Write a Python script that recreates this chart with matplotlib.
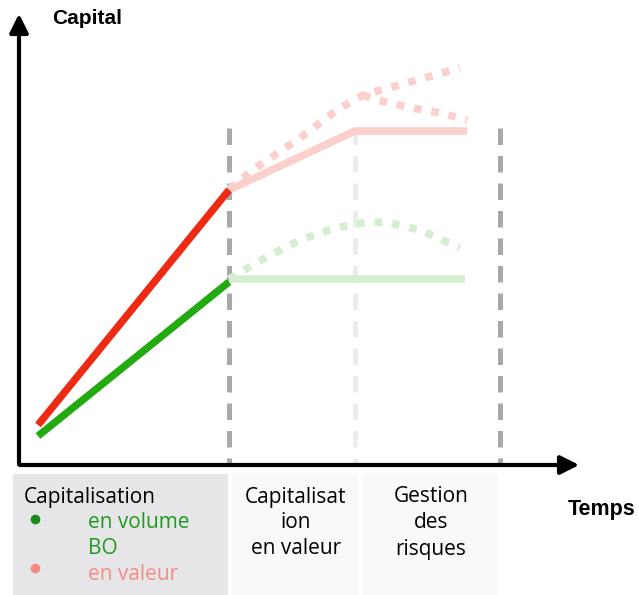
import matplotlib.pyplot as plt
from matplotlib.patches import Rectangle

# coordinates: time to the right, capital upward (figure is 639 x 595 units)
H = 595

# phase boundaries on the time axis
phase_t = [229, 355, 500]
phase_col = ["#a9a9a9", "#ececec", "#a9a9a9"]

# strong lines (first phase)
red_t = [38, 229]
red_c = [H - 425, H - 190]
green_t = [38, 229]
green_c = [H - 436, H - 282]

# faded continuations
red_flat_t = [229, 355, 467]
red_flat_c = [H - 190, H - 131, H - 131]
red_up_t = [229, 260, 300, 337, 363, 410, 460]
red_up_c = [H - 189, H - 165, H - 138, H - 110, H - 95, H - 82, H - 68]
red_down_t = [363, 377, 407, 440, 467]
red_down_c = [H - 95, H - 100, H - 107, H - 113, H - 120]
green_flat_t = [229, 465]
green_flat_c = [H - 279, H - 279]
green_dot_t = [229, 265, 300, 335, 363, 385, 420, 460]
green_dot_c = [H - 279, H - 258, H - 240, H - 228, H - 223, H - 222, H - 230, H - 248]

fig = plt.figure(figsize=(6.39, 5.95), dpi=100)
ax = fig.add_axes([0, 0, 1, 1])
ax.set_xlim(0, 639)
ax.set_ylim(0, H)
ax.axis('off')

# bottom boxes
ax.add_patch(Rectangle((13, 0), 214, H - 474, color="#e6e6e8", zorder=0))
ax.add_patch(Rectangle((232, 0), 125, H - 474, color="#f9f9f9", zorder=0))
ax.add_patch(Rectangle((363, 0), 134, H - 474, color="#f9f9f9", zorder=0))

# vertical phase lines
for t, c in zip(phase_t, phase_col):
    ax.plot([t, t], [H - 128, H - 465], color=c, lw=3.6, ls=(0, (3.3, 2.2)), zorder=1)

# faded lines
ax.plot(red_flat_t, red_flat_c, color="#fbd0cc", lw=5.5, solid_capstyle='butt', zorder=2)
ax.plot(green_flat_t, green_flat_c, color="#d3efcf", lw=5.5, solid_capstyle='butt', zorder=2)
dot = (0, (1.0, 1.3))
ax.plot(red_up_t, red_up_c, color="#fbd0cc", lw=5.5, ls=dot, dash_capstyle='butt', zorder=2)
ax.plot(red_down_t, red_down_c, color="#fbd0cc", lw=5.5, ls=dot, dash_capstyle='butt', zorder=2)
ax.plot(green_dot_t, green_dot_c, color="#d3efcf", lw=5.5, ls=dot, dash_capstyle='butt', zorder=2)

# strong lines
ax.plot(red_t, red_c, color="#ee2a12", lw=5.3, solid_capstyle='butt', zorder=3)
ax.plot(green_t, green_c, color="#22aa10", lw=5.3, solid_capstyle='butt', zorder=3)

# axes arrows
ax.annotate('', xy=(19, H - 11), xytext=(19, H - 467),
            arrowprops=dict(arrowstyle='-|>', lw=3, color='black', mutation_scale=28), zorder=4)
ax.annotate('', xy=(582, H - 465), xytext=(17, H - 465),
            arrowprops=dict(arrowstyle='-|>', lw=3, color='black', mutation_scale=28), zorder=4)

# titles
ax.text(52, H - 18, "Capital", fontsize=15, fontweight='bold', family='Liberation Sans',
        ha='left', va='center')
ax.text(568, H - 510, "Temps", fontsize=15.5, fontweight='bold', family='Liberation Sans',
        ha='left', va='center')

# box texts
fs = 15
fam = 'Open Sans'
ax.text(24, H - 497, "Capitalisation", fontsize=fs, family=fam, ha='left', va='center')
ax.plot([35], [H - 519], 'o', color="#1b8c1b", ms=6)
ax.text(88, H - 523, "en volume", fontsize=fs, family=fam, color="#1f9a1f", ha='left', va='center')
ax.text(88, H - 549, "BO", fontsize=fs, family=fam, color="#1f9a1f", ha='left', va='center')
ax.plot([35], [H - 568], 'o', color="#f78c86", ms=6)
ax.text(88, H - 574, "en valeur", fontsize=fs, family=fam, color="#f78c86", ha='left', va='center')

for y, s in zip([497, 523, 549], ["Capitalisat", "ion", "en valeur"]):
    ax.text(296, H - y, s, fontsize=fs, family=fam, ha='center', va='center')
for y, s in zip([497, 523, 549], ["Gestion", "des", "risques"]):
    ax.text(431, H - y, s, fontsize=fs, family=fam, ha='center', va='center')

fig.savefig("out.png", dpi=100)
